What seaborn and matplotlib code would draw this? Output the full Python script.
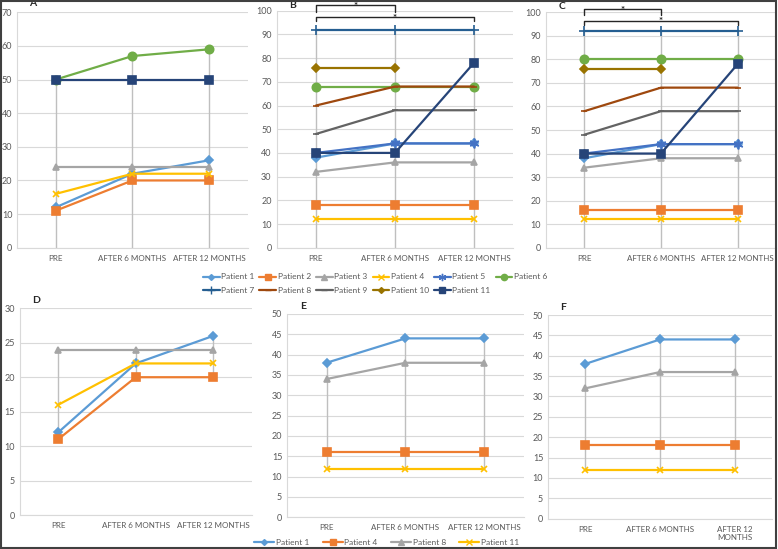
import numpy as np
import matplotlib.pyplot as plt
import seaborn as sns
from matplotlib.lines import Line2D
from matplotlib.patches import Rectangle

# data
categories = ["PRE", "AFTER 6 MONTHS", "AFTER 12 MONTHS"]
x_pos = [0, 1, 2]

a_patients = ["Patient 1", "Patient 2", "Patient 3", "Patient 4", "Patient 6", "Patient 11"]
a_values = [[12, 22, 26], [11, 20, 20], [24, 24, 24], [16, 22, 22], [50, 57, 59], [50, 50, 50]]

b_patients = ["Patient 1", "Patient 2", "Patient 3", "Patient 4", "Patient 5", "Patient 6",
              "Patient 7", "Patient 8", "Patient 9", "Patient 10", "Patient 11"]
b_values = [[38, 44, 44], [18, 18, 18], [32, 36, 36], [12, 12, 12], [40, 44, 44], [68, 68, 68],
            [92, 92, 92], [60, 68, 68], [48, 58, 58], [76, 76, np.nan], [40, 40, 78]]

c_patients = b_patients
c_values = [[38, 44, 44], [16, 16, 16], [34, 38, 38], [12, 12, 12], [40, 44, 44], [80, 80, 80],
            [92, 92, 92], [58, 68, 68], [48, 58, 58], [76, 76, np.nan], [40, 40, 78]]

d_patients = ["Patient 1", "Patient 2", "Patient 3", "Patient 4"]
d_values = [[12, 22, 26], [11, 20, 20], [24, 24, 24], [16, 22, 22]]

ef_patients = ["Patient 1", "Patient 4", "Patient 8", "Patient 11"]
e_values = [[38, 44, 44], [16, 16, 16], [34, 38, 38], [12, 12, 12]]
f_values = [[38, 44, 44], [18, 18, 18], [32, 36, 36], [12, 12, 12]]

# excel-like series styles
STYLE = {
    "Patient 1": ("#5B9BD5", "D", 4),
    "Patient 2": ("#ED7D31", "s", 6),
    "Patient 3": ("#A5A5A5", "^", 5),
    "Patient 4": ("#FFC000", "x", 5),
    "Patient 5": ("#4472C4", (6, 2, 0), 7),
    "Patient 6": ("#70AD47", "o", 6),
    "Patient 7": ("#255E91", "+", 7),
    "Patient 8": ("#9E480E", "_", 5),
    "Patient 9": ("#636363", "_", 5),
    "Patient 10": ("#997300", "D", 4),
    "Patient 11": ("#264478", "s", 6),
}
EF_STYLE = {
    "Patient 1": ("#5B9BD5", "D", 4),
    "Patient 4": ("#ED7D31", "s", 6),
    "Patient 8": ("#A5A5A5", "^", 5),
    "Patient 11": ("#FFC000", "x", 5),
}

sns.set_style("white")
plt.rcParams['font.family'] = ['Lato', 'DejaVu Sans']

TXT = "#595959"
GRID = "#D9D9D9"
DROP = "#BFBFBF"


def draw_panel(ax, patients, values, styles, ymax, ystep, letter, letter_y,
               drop="base", wrap=False):
    vals = np.array(values, dtype=float)
    tops = np.nanmax(vals, axis=0)
    lows = np.nanmin(vals, axis=0) if drop == "hilo" else np.zeros(3)
    ax.vlines(x_pos, lows, tops, color=DROP, lw=1, zorder=1)
    for name, v in zip(patients, values):
        c, m, ms = styles[name]
        sns.lineplot(x=x_pos, y=v, ax=ax, color=c, marker=m, markersize=ms,
                     markeredgecolor=c, markeredgewidth=1.2, lw=1.6, zorder=3)
    ax.set_xlim(-0.5, 2.5)
    ax.set_ylim(0, ymax)
    ax.set_yticks(np.arange(0, ymax + 1, ystep))
    ax.set_xticks(x_pos)
    labels = categories if not wrap else ["PRE", "AFTER 6 MONTHS", "AFTER 12\nMONTHS"]
    ax.set_xticklabels(labels, fontsize=5.8, color=TXT)
    ax.tick_params(axis='y', labelsize=6.5, labelcolor=TXT, length=0, pad=3.5)
    ax.tick_params(axis='x', length=0, pad=5)
    ax.yaxis.grid(True, color=GRID, lw=0.8)
    ax.set_axisbelow(True)
    for s in ["top", "right"]:
        ax.spines[s].set_visible(False)
    for s in ["left", "bottom"]:
        ax.spines[s].set_color(GRID)
        ax.spines[s].set_linewidth(0.8)
    ax.set_xlabel("")
    ax.set_ylabel("")
    ax.text(-0.5 + 0.16, letter_y, letter, fontsize=7.5, fontweight="bold",
            ha="left", va="center", clip_on=False)


def bracket(ax, x0, x1, ytop, ybot, ystar):
    ax.plot([x0, x0, x1, x1], [ybot, ytop, ytop, ybot], color="#262626", lw=1, clip_on=False)
    ax.text((x0 + x1) / 2, ystar, "*", ha="center", va="center", fontsize=7,
            fontweight="bold", color="#262626", clip_on=False)


fig = plt.figure(figsize=(7.78, 5.49), dpi=100)

axA = fig.add_axes([0.0222, 0.5488, 0.2961, 0.4288])
axB = fig.add_axes([0.3554, 0.5488, 0.3046, 0.4317])
axC = fig.add_axes([0.7018, 0.5488, 0.2956, 0.4288])
axD = fig.add_axes([0.0251, 0.0619, 0.2988, 0.3765])
axE = fig.add_axes([0.3689, 0.0577, 0.3046, 0.3704])
axF = fig.add_axes([0.7044, 0.0552, 0.2879, 0.3710])

draw_panel(axA, a_patients, a_values, STYLE, 70, 10, "A", 72.5)
draw_panel(axB, b_patients, b_values, STYLE, 100, 10, "B", 102.2)
draw_panel(axC, c_patients, c_values, STYLE, 100, 10, "C", 102.3)
draw_panel(axD, d_patients, d_values, STYLE, 30, 5, "D", 31.2, drop="hilo")
draw_panel(axE, ef_patients, e_values, EF_STYLE, 50, 5, "E", 51.9, drop="hilo")
draw_panel(axF, ef_patients, f_values, EF_STYLE, 50, 5, "F", 51.9, drop="hilo", wrap=True)

# significance brackets
bracket(axB, 0, 1, 102.3, 99.5, 101.6)
bracket(axB, 0, 2, 97.2, 95.5, 96.6)
bracket(axC, 0, 1, 101.3, 98.7, 100.9)
bracket(axC, 0, 2, 96.3, 94.6, 95.9)


# shared legend for top row, excel order (row-wise)
def handle(name, styles):
    c, m, ms = styles[name]
    return Line2D([], [], color=c, marker=m, markersize=ms * 0.75, markeredgecolor=c, lw=1.6)


order = ["Patient 1", "Patient 7", "Patient 2", "Patient 8", "Patient 3", "Patient 9",
         "Patient 4", "Patient 10", "Patient 5", "Patient 11", "Patient 6"]
fig.legend([handle(n, STYLE) for n in order], order, ncol=6, loc="center",
           bbox_to_anchor=(0.482, 0.4835), frameon=False, fontsize=6, labelcolor=TXT,
           handlelength=2.0, handletextpad=0.2, columnspacing=0.6, labelspacing=0.75)

fig.legend([handle(n, EF_STYLE) for n in ef_patients], ef_patients, ncol=4, loc="center",
           bbox_to_anchor=(0.497, 0.012), frameon=False, fontsize=6, labelcolor=TXT,
           handlelength=2.4, handletextpad=0.2, columnspacing=1.6)

fig.patches.append(Rectangle((0.001, 0.002), 0.997, 0.996, transform=fig.transFigure,
                             fill=False, edgecolor="#404040", lw=1.5))

fig.savefig("out.png", dpi=100)
